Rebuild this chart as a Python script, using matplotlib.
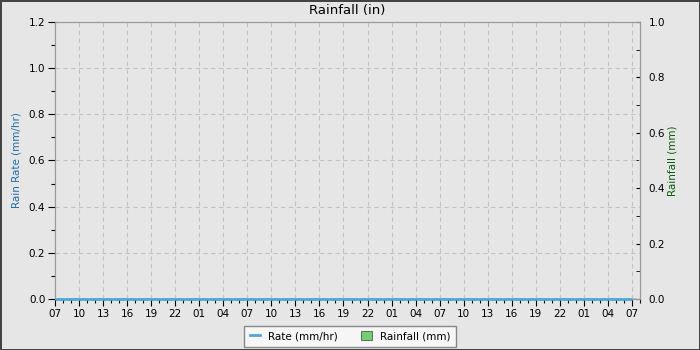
"""Rainfall chart: rain rate line (left axis) and rainfall bars (right axis) over three days."""
from datetime import datetime, timedelta

import matplotlib
matplotlib.use("Agg")
import matplotlib.dates as mdates
import matplotlib.pyplot as plt
from matplotlib.lines import Line2D
from matplotlib.patches import Patch

# hourly samples, 07:00 day 1 through 07:00 day 4 -- no rain at all
start = datetime(2024, 1, 1, 7, 0)
hours = [start + timedelta(hours=h) for h in range(73)]
rate_mm_hr = [0.0] * 73
rainfall_mm = [0.0] * 73

title = "Rainfall (in)"
rate_label = "Rain Rate (mm/hr)"
rain_label = "Rainfall (mm)"

BG = "#e6e6e6"
RATE_COLOR = "#4ea8d6"
BAR_COLOR = "#72d072"

fig = plt.figure(figsize=(7, 3.5), dpi=100, facecolor=BG,
                 edgecolor="#444444", linewidth=2)
ax = fig.add_axes([55 / 700, 1 - 299 / 350, 585 / 700, 277 / 350])
ax.set_facecolor(BG)
ax2 = ax.twinx()

ax2.bar(hours, rainfall_mm, width=1 / 24, color=BAR_COLOR, edgecolor="#336633")
ax.plot(hours, rate_mm_hr, color=RATE_COLOR, lw=2, zorder=5, clip_on=False,
        solid_capstyle="butt")
ax.set_zorder(ax2.get_zorder() + 1)
ax.patch.set_visible(False)
ax2.patch.set_facecolor(BG)

ax.set_xlim(start, start + timedelta(hours=73))
ax.set_ylim(0, 1.2)
ax2.set_ylim(0, 1.0)

ax.xaxis.set_major_locator(mdates.HourLocator(byhour=range(1, 24, 3)))
ax.xaxis.set_minor_locator(mdates.HourLocator())
ax.xaxis.set_major_formatter(mdates.DateFormatter("%H"))
ax.yaxis.set_major_locator(plt.MultipleLocator(0.2))
ax.yaxis.set_minor_locator(plt.MultipleLocator(0.1))
ax2.yaxis.set_major_locator(plt.MultipleLocator(0.2))
ax2.yaxis.set_minor_locator(plt.MultipleLocator(0.1))
ax.yaxis.set_major_formatter(plt.FormatStrFormatter("%.1f"))
ax2.yaxis.set_major_formatter(plt.FormatStrFormatter("%.1f"))

ax.tick_params(which="major", length=5, width=0.8, labelsize=7.5, pad=2)
ax.tick_params(which="minor", length=3, width=0.8)
ax2.tick_params(which="both", direction="in", labelsize=7.5, pad=6)
ax2.tick_params(which="major", length=3)
ax2.tick_params(which="minor", length=3)

ax.grid(True, which="major", ls=(0, (4, 3)), color="#c2c2c2", lw=0.8)
for a in (ax, ax2):
    for s in a.spines.values():
        s.set_color("#999999")

ax.set_title(title, fontsize=9.5, pad=6)
ax.set_ylabel(rate_label, fontsize=7.5, color="#1f6fa8", labelpad=5)
ax2.set_ylabel(rain_label, fontsize=7.5, color="#0b5d0b", labelpad=2)

handles = [Line2D([], [], color=RATE_COLOR, lw=2),
           Patch(facecolor=BAR_COLOR, edgecolor="#555555", lw=0.6)]
leg = fig.legend(handles, ["Rate (mm/hr)", "Rainfall (mm)"], loc="lower center",
                 bbox_to_anchor=(0.5, -0.005), ncol=2, fontsize=7.5, fancybox=False,
                 framealpha=1, handlelength=1.0, handleheight=0.9, columnspacing=2.2,
                 borderpad=0.5)
leg.get_frame().set_facecolor("#f6f6f6")
leg.get_frame().set_edgecolor("#888888")

fig.savefig("out.png", dpi=100, facecolor=fig.get_facecolor(),
            edgecolor=fig.get_edgecolor())
